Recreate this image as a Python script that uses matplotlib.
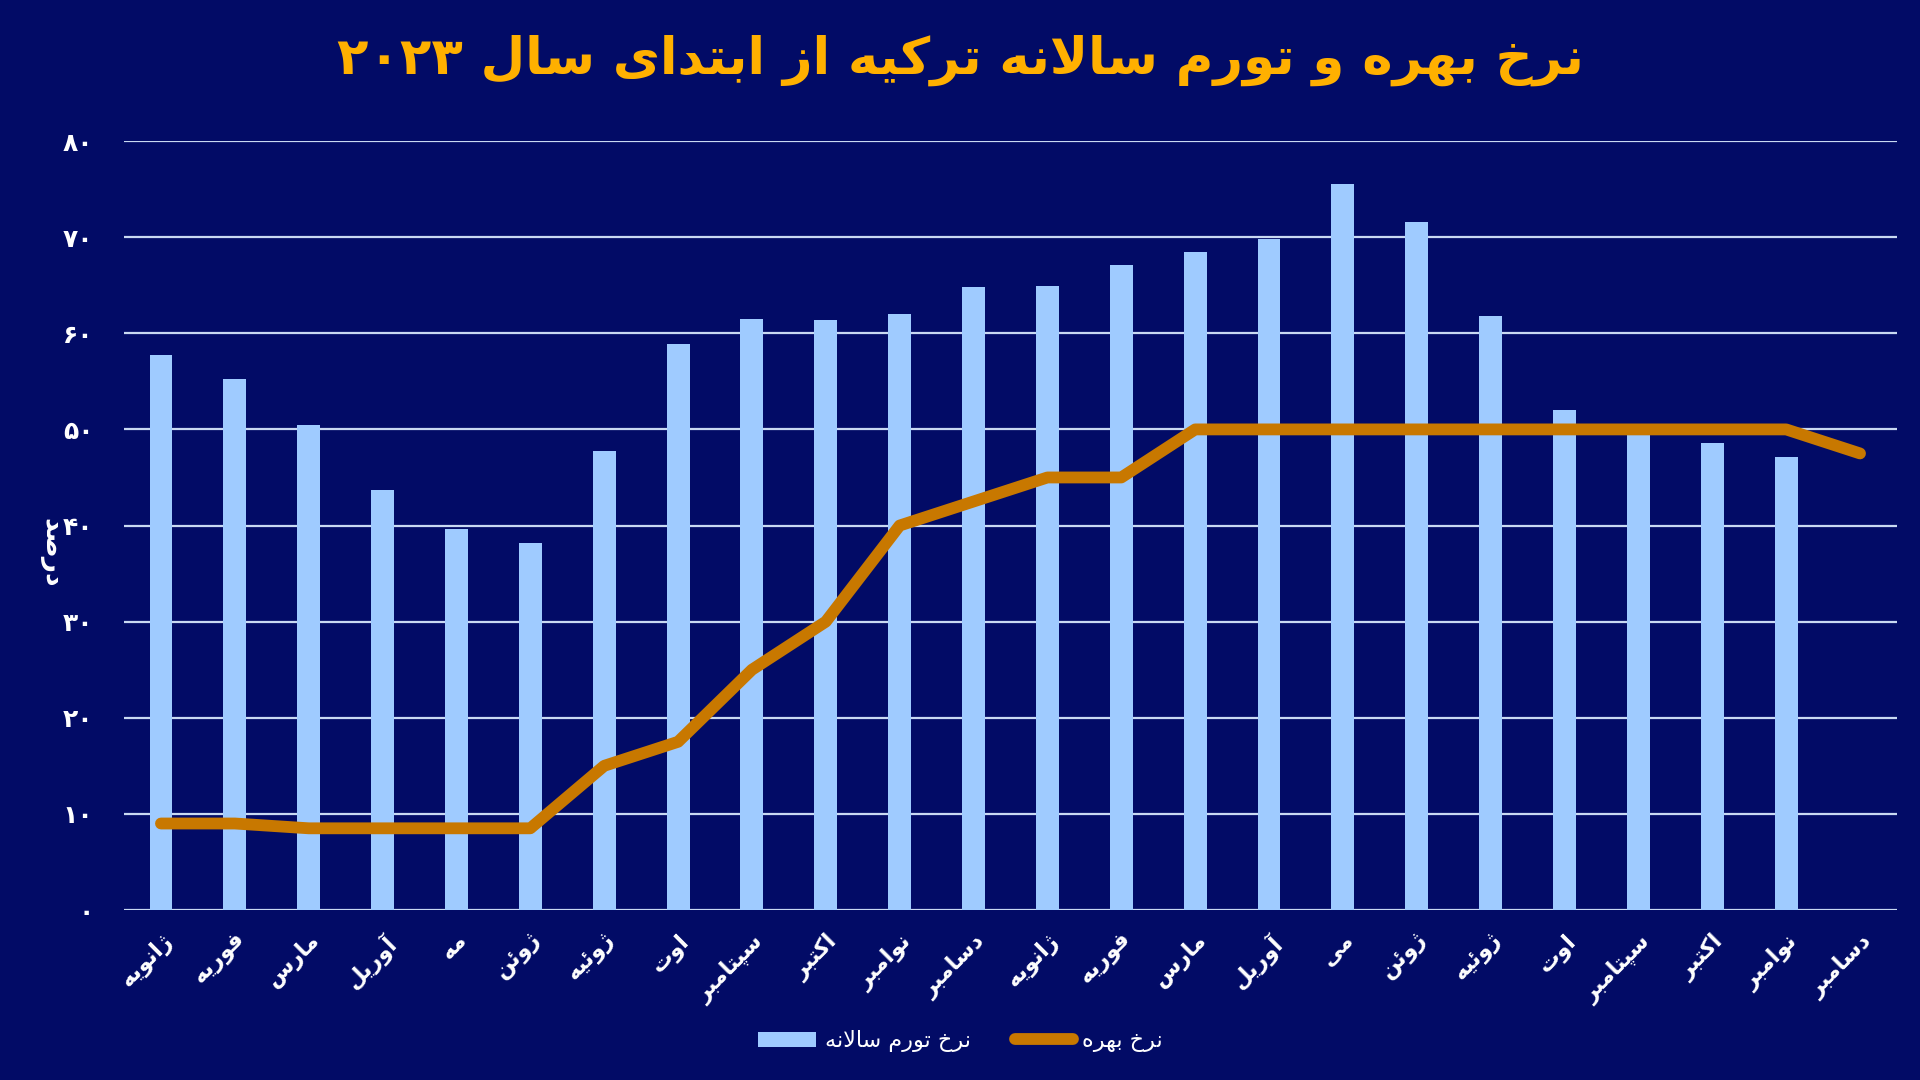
import re
import numpy as np
import matplotlib
matplotlib.use("Agg")
import matplotlib.pyplot as plt

# --- data -------------------------------------------------------------
months = ["ژانویه", "فوریه", "مارس", "آوریل", "مه", "ژوئن", "ژوئیه", "اوت",
          "سپتامبر", "اکتبر", "نوامبر", "دسامبر",
          "ژانویه", "فوریه", "مارس", "آوریل", "می", "ژوئن", "ژوئیه", "اوت",
          "سپتامبر", "اکتبر", "نوامبر", "دسامبر"]
inflation = [57.7, 55.2, 50.5, 43.7, 39.6, 38.2, 47.8, 58.9, 61.5, 61.4, 62.0, 64.8,
             64.9, 67.1, 68.5, 69.8, 75.5, 71.6, 61.8, 52.0, 49.4, 48.6, 47.1, np.nan]
interest = [9, 9, 8.5, 8.5, 8.5, 8.5, 15, 17.5, 25, 30, 40, 42.5,
            45, 45, 50, 50, 50, 50, 50, 50, 50, 50, 50, 47.5]
yticks = [0, 10, 20, 30, 40, 50, 60, 70, 80]

title = "نرخ بهره و تورم سالانه ترکیه از ابتدای سال ۲۰۲۳"
ylabel = "درصد"
leg_infl = "نرخ تورم سالانه"
leg_rate = "نرخ بهره"

# --- minimal persian shaping (matplotlib has no text shaping) ----------
FORMS = {  # isolated, final, initial, medial
    "ا": (0xFE8D, 0xFE8E), "آ": (0xFE81, 0xFE82), "د": (0xFEA9, 0xFEAA),
    "ذ": (0xFEAB, 0xFEAC), "ر": (0xFEAD, 0xFEAE), "ز": (0xFEAF, 0xFEB0),
    "ژ": (0xFB8A, 0xFB8B), "و": (0xFEED, 0xFEEE),
    "ب": (0xFE8F, 0xFE90, 0xFE91, 0xFE92), "پ": (0xFB56, 0xFB57, 0xFB58, 0xFB59),
    "ت": (0xFE95, 0xFE96, 0xFE97, 0xFE98), "ث": (0xFE99, 0xFE9A, 0xFE9B, 0xFE9C),
    "ج": (0xFE9D, 0xFE9E, 0xFE9F, 0xFEA0), "چ": (0xFB7A, 0xFB7B, 0xFB7C, 0xFB7D),
    "ح": (0xFEA1, 0xFEA2, 0xFEA3, 0xFEA4), "خ": (0xFEA5, 0xFEA6, 0xFEA7, 0xFEA8),
    "س": (0xFEB1, 0xFEB2, 0xFEB3, 0xFEB4), "ش": (0xFEB5, 0xFEB6, 0xFEB7, 0xFEB8),
    "ص": (0xFEB9, 0xFEBA, 0xFEBB, 0xFEBC), "ض": (0xFEBD, 0xFEBE, 0xFEBF, 0xFEC0),
    "ط": (0xFEC1, 0xFEC2, 0xFEC3, 0xFEC4), "ظ": (0xFEC5, 0xFEC6, 0xFEC7, 0xFEC8),
    "ع": (0xFEC9, 0xFECA, 0xFECB, 0xFECC), "غ": (0xFECD, 0xFECE, 0xFECF, 0xFED0),
    "ف": (0xFED1, 0xFED2, 0xFED3, 0xFED4), "ق": (0xFED5, 0xFED6, 0xFED7, 0xFED8),
    "ک": (0xFB8E, 0xFB8F, 0xFB90, 0xFB91), "گ": (0xFB92, 0xFB93, 0xFB94, 0xFB95),
    "ل": (0xFEDD, 0xFEDE, 0xFEDF, 0xFEE0), "م": (0xFEE1, 0xFEE2, 0xFEE3, 0xFEE4),
    "ن": (0xFEE5, 0xFEE6, 0xFEE7, 0xFEE8), "ه": (0xFEE9, 0xFEEA, 0xFEEB, 0xFEEC),
    "ی": (0xFBFC, 0xFBFD, 0xFBFE, 0xFBFF), "ئ": (0xFE89, 0xFE8A, 0xFE8B, 0xFE8C),
}


def shape(s):
    out = []
    i = 0
    while i < len(s):
        c = s[i]
        if c not in FORMS:
            out.append(c)
            i += 1
            continue
        prev = s[i - 1] if i > 0 else ""
        joined = prev in FORMS and len(FORMS[prev]) == 4
        # lam-alef ligature
        if c == "ل" and i + 1 < len(s) and s[i + 1] == "ا":
            out.append(chr(0xFEFC if joined else 0xFEFB))
            i += 2
            continue
        nxt = s[i + 1] if i + 1 < len(s) else ""
        f = FORMS[c]
        links = len(f) == 4 and nxt in FORMS
        if joined and links:
            g = f[3]
        elif joined:
            g = f[1]
        elif links:
            g = f[2]
        else:
            g = f[0]
        out.append(chr(g))
        i += 1
    vis = "".join(out)[::-1]
    # keep digit runs left-to-right
    return re.sub(r"[۰-۹0-9]+", lambda m: m.group(0)[::-1], vis)


def fa_num(v):
    return str(v).translate(str.maketrans("0123456789", "۰۱۲۳۴۵۶۷۸۹"))


# --- plot ---------------------------------------------------------------
bg = "#020b66"
bar_c = "#9fcbff"
line_c = "#c87800"
grid_c = "#c9d9f2"

plt.rcParams["font.family"] = ["DejaVu Sans"]
fig = plt.figure(figsize=(19.2, 10.8), dpi=100, facecolor=bg)
ax = fig.add_axes([0.0646, 0.1574, 0.9234, 0.712])
ax.set_facecolor(bg)

x = np.arange(len(months))
bars = ax.bar(x, inflation, width=0.31, color=bar_c, zorder=2)
line, = ax.plot(x, interest, color=line_c, lw=8.5, solid_capstyle="round",
                solid_joinstyle="round", zorder=3)

ax.set_xlim(-0.5, len(months) - 0.5)
ax.set_ylim(0, 80)
ax.set_yticks(yticks)
ax.set_yticklabels([fa_num(t) for t in yticks], color="white",
                   fontsize=18, fontweight="bold")
ax.yaxis.grid(True, color=grid_c, lw=1.6, zorder=1)
ax.set_axisbelow(True)
for sp in ax.spines.values():
    sp.set_visible(False)
ax.tick_params(axis="both", length=0)
ax.tick_params(axis="y", pad=22)

ax.set_xticks(x)
ax.set_xticklabels([shape(m) for m in months], rotation=45, ha="right",
                   rotation_mode="anchor", color="white", fontsize=16,
                   fontweight="bold")
ax.tick_params(axis="x", pad=14)

fig.text(0.027, 0.488, shape(ylabel), rotation=270, color="white",
         fontsize=19, fontweight="bold", ha="center", va="center")

fig.text(0.5, 0.944, shape(title), color="#ffb000", fontsize=37,
         fontweight="bold", ha="center", va="center")

leg = fig.legend([bars, line], [shape(leg_infl), shape(leg_rate)],
                 loc="center", bbox_to_anchor=(0.5, 0.036), ncol=2,
                 frameon=False, fontsize=16, handlelength=2.6,
                 columnspacing=2.0, handletextpad=0.4)
for t in leg.get_texts():
    t.set_color("white")

fig.savefig("out.png", dpi=100, facecolor=bg)
